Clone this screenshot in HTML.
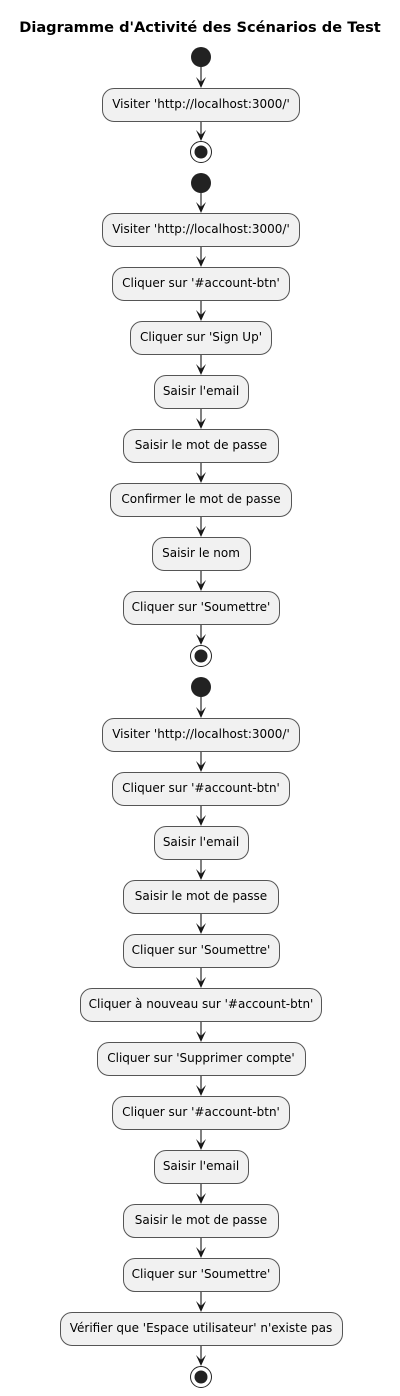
<!DOCTYPE html>
<html><head><meta charset="utf-8"><style>
body{margin:0;background:#fff;width:400px;height:1396px;position:relative;overflow:hidden;font-family:"DejaVu Sans","Liberation Sans",sans-serif;}
.t{position:absolute;left:0;width:400px;top:19px;text-align:center;font-weight:bold;font-size:14.6px;color:#000;}
.b{position:absolute;height:33px;box-sizing:border-box;border:1px solid #555;border-radius:12px;background:#f1f1f1;font-size:12px;line-height:31px;text-align:center;white-space:nowrap;color:#000;}
svg{position:absolute;left:0;top:0;}
</style></head><body>
<div class="t">Diagramme d'Activité des Scénarios de Test</div>
<svg width="400" height="1396" id="s"></svg>
<div id="c"></div>
<script>
var items=[
['S',57],['Visiter \'http://localhost:3000/\'',88,198],['E',152],
['S',183],
['Visiter \'http://localhost:3000/\'',213,198],
['Cliquer sur \'#account-btn\'',267,178],
['Cliquer sur \'Sign Up\'',321,142],
['Saisir l\'email',375,95],
['Saisir le mot de passe',429,156],
['Confirmer le mot de passe',483,182],
['Saisir le nom',537,99],
['Cliquer sur \'Soumettre\'',591,157],
['E',656],
['S',687],
['Visiter \'http://localhost:3000/\'',718,198],
['Cliquer sur \'#account-btn\'',772,178],
['Saisir l\'email',826,95],
['Saisir le mot de passe',880,156],
['Cliquer sur \'Soumettre\'',934,157],
['Cliquer à nouveau sur \'#account-btn\'',988,242],
['Cliquer sur \'Supprimer compte\'',1042,209],
['Cliquer sur \'#account-btn\'',1096,178],
['Saisir l\'email',1150,95],
['Saisir le mot de passe',1204,156],
['Cliquer sur \'Soumettre\'',1258,157],
['Vérifier que \'Espace utilisateur\' n\'existe pas',1312,283],
['E',1377]];
var svg='',html='',cx=201,prevBottom=null;
function arrow(y1,y2){return '<line x1="'+cx+'" y1="'+y1+'" x2="'+cx+'" y2="'+(y2-3)+'" stroke="#181818" stroke-width="1.1"/><polygon points="'+(cx-5)+','+(y2-11)+' '+cx+','+y2+' '+(cx+5)+','+(y2-11)+' '+cx+','+(y2-6)+'" fill="#181818"/>';}
items.forEach(function(it){
 var top,bot;
 if(it[0]==='S'){top=it[1]-10;bot=it[1]+10;svg+='<circle cx="'+cx+'" cy="'+it[1]+'" r="10" fill="#222"/>';prevBottom=bot;return;}
 if(it[0]==='E'){top=it[1]-11;svg+='<circle cx="'+cx+'" cy="'+it[1]+'" r="10.5" fill="none" stroke="#222" stroke-width="1"/><circle cx="'+cx+'" cy="'+it[1]+'" r="6.5" fill="#222"/>';if(prevBottom!==null)svg+=arrow(prevBottom,top);prevBottom=null;return;}
 top=it[1];bot=top+34;
 if(prevBottom!==null)svg+=arrow(prevBottom,top);
 html+='<div class="b" style="top:'+top+'px;left:'+(cx-it[2]/2)+'px;width:'+it[2]+'px;height:34px">'+it[0].replace(/&/g,'&amp;')+'</div>';
 prevBottom=bot;
});
document.getElementById('s').innerHTML=svg;
document.getElementById('c').innerHTML=html;
</script>
</body></html>
